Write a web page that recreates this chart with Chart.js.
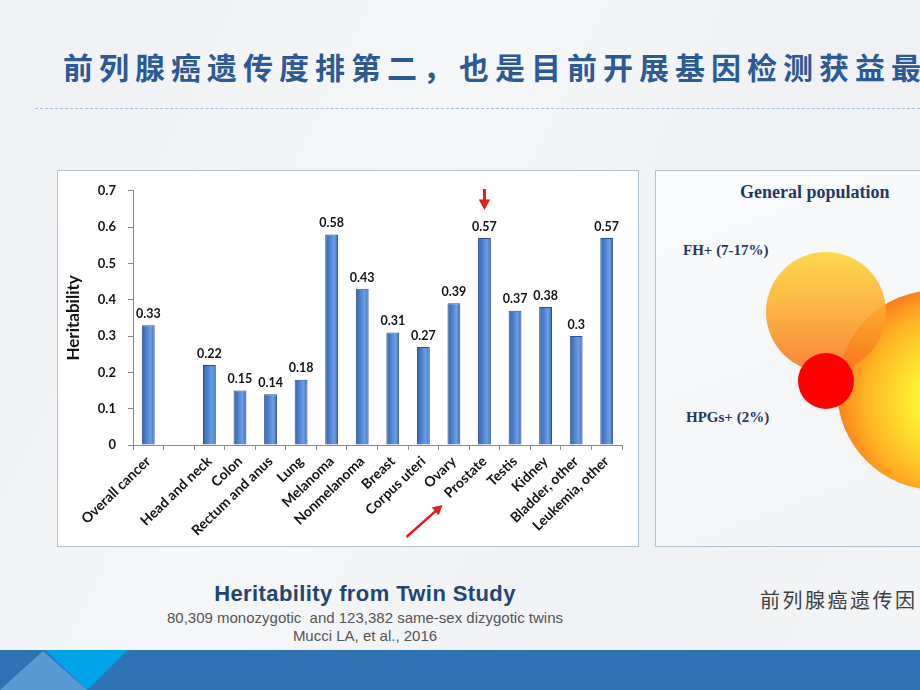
<!DOCTYPE html>
<html>
<head>
<meta charset="utf-8">
<title>Heritability from Twin Study</title>
<script src="https://cdn.jsdelivr.net/npm/chart.js@4.4.1/dist/chart.umd.min.js"></script>
<style>
  html, body { margin: 0; padding: 0; }
  body {
    width: 920px; height: 690px; overflow: hidden; position: relative;
    background: linear-gradient(115deg, #eef0f3 0%, #f6f7f9 40%, #eff1f4 70%, #f4f5f7 100%);
    font-family: "Liberation Sans", Arial, sans-serif;
  }
  .title {
    position: absolute; left: 63px; top: 44px; white-space: nowrap;
    font-family: "Noto Sans CJK SC", sans-serif; font-weight: bold;
    font-size: 30px; letter-spacing: 6px; color: #2c5a94;
  }
  .dash {
    position: absolute; left: 35px; top: 108px; width: 900px; height: 0;
    border-top: 1px dashed #a6bdd6;
  }
  .panel {
    position: absolute; top: 170px; height: 377px;
    border: 1px solid #b4c3d0; box-sizing: border-box;
  }
  #chartPanel { left: 57px; width: 582px; background: #fff; }
  #sidePanel { left: 655px; width: 280px; background: linear-gradient(160deg, #f9fafb, #f2f4f6); overflow: hidden; }
  #chartWrap { position: absolute; left: 58px; top: 171px; width: 579px; height: 376px; }
  .circle { position: absolute; border-radius: 50%; }
  .serif {
    position: absolute; white-space: nowrap; font-family: "Liberation Serif", "DejaVu Serif", serif;
    font-weight: bold; color: #1f3864;
  }
  .caption { position: absolute; left: 165px; width: 400px; text-align: center; white-space: nowrap; }
  .band { position: absolute; left: 0; top: 650px; width: 920px; height: 40px; background: #2e74b5; }
</style>
</head>
<body>
<div class="title">前列腺癌遗传度排第二，也是目前开展基因检测获益最</div>
<div class="dash"></div>

<div class="panel" id="chartPanel"></div>
<div id="chartWrap"><canvas id="heritChart"></canvas></div>

<div class="panel" id="sidePanel"></div>
<div class="circle" style="left:837px;top:290px;width:200px;height:200px;background:radial-gradient(circle at 58% 55%, #ffff3c 0%, #ffee32 25%, #ffb424 55%, #f9611c 82%, #ec2f1a 100%);"></div>
<div class="circle" style="left:766px;top:252px;width:120px;height:120px;opacity:0.88;background:linear-gradient(180deg, #ffd335 0%, #fcae2c 45%, #f8731f 100%);"></div>
<div class="circle" style="left:798px;top:353px;width:56px;height:56px;background:radial-gradient(circle at 50% 45%, #ff0000 70%, #dd0000 100%);"></div>
<div class="serif" style="left:740px;top:182px;font-size:18px;">General population</div>
<div class="serif" style="left:683px;top:242px;font-size:15px;">FH+ (7-17%)</div>
<div class="serif" style="left:686px;top:409px;font-size:15px;">HPGs+ (2%)</div>

<div class="caption" style="top:581px;font-size:22px;font-weight:bold;color:#24466e;letter-spacing:0.4px;">Heritability from Twin Study</div>
<div class="caption" style="top:609px;font-size:15px;color:#555;">80,309 monozygotic&nbsp; and 123,382 same-sex dizygotic twins</div>
<div class="caption" style="top:627px;font-size:15px;color:#555;">Mucci LA, et al., 2016</div>
<div style="position:absolute;left:760px;top:585px;font-family:'Noto Sans CJK SC',sans-serif;font-size:20px;letter-spacing:2.5px;color:#404040;white-space:nowrap;">前列腺癌遗传因</div>

<div class="band"></div>
<svg style="position:absolute;left:0;top:650px;" width="200" height="40">
  <polygon points="45,0 128,0 87,40" fill="#00a2e8"/>
  <polygon points="43,1 0,40 0,40 87,40" fill="#5b9bd5"/>
</svg>

<script>
// Chart data
const categories = ['Overall cancer', '', 'Head and neck', 'Colon', 'Rectum and anus', 'Lung',
  'Melanoma', 'Nonmelanoma', 'Breast', 'Corpus uteri', 'Ovary', 'Prostate', 'Testis', 'Kidney',
  'Bladder, other', 'Leukemia, other'];
const heritability = [0.33, null, 0.22, 0.15, 0.14, 0.18, 0.58, 0.43, 0.31, 0.27, 0.39, 0.57,
  0.37, 0.38, 0.3, 0.57];
const yTicks = [0, 0.1, 0.2, 0.3, 0.4, 0.5, 0.6, 0.7];
const highlighted = 'Prostate';

const axisGray = '#878787';
const textDark = '#141414';

// Per-bar horizontal gradient, like the cylinder-ish bars in the original
function barFill(ctx) {
  const chart = ctx.chart;
  const xs = chart.scales.x;
  if (!xs || ctx.type !== 'data') return '#4a7fcf';
  const cx = xs.getPixelForValue(ctx.dataIndex);
  const w = xs.width / categories.length * 0.42;
  if (!isFinite(cx) || !isFinite(w) || w <= 0) return '#4a7fcf';
  const g = chart.ctx.createLinearGradient(cx - w / 2, 0, cx + w / 2, 0);
  g.addColorStop(0, '#3464ad');
  g.addColorStop(0.45, '#5389d6');
  g.addColorStop(0.7, '#6c9fe4');
  g.addColorStop(1, '#3a6bb3');
  return g;
}

// Value labels above each bar
const valueLabels = {
  id: 'valueLabels',
  afterDatasetsDraw(chart) {
    const ctx = chart.ctx;
    const meta = chart.getDatasetMeta(0);
    ctx.save();
    ctx.font = 'bold 12.5px Lato, "Open Sans", sans-serif';
    ctx.fillStyle = textDark;
    ctx.textAlign = 'center';
    ctx.textBaseline = 'bottom';
    meta.data.forEach((bar, i) => {
      const v = heritability[i];
      if (v == null) return;
      ctx.fillText(String(v), bar.x, bar.y - 5);
    });
    ctx.restore();
  }
};

// Red arrows pointing at Prostate
function drawArrow(ctx, x1, y1, x2, y2, head) {
  const ang = Math.atan2(y2 - y1, x2 - x1);
  ctx.beginPath();
  ctx.moveTo(x1, y1);
  ctx.lineTo(x2 - Math.cos(ang) * head * 0.6, y2 - Math.sin(ang) * head * 0.6);
  ctx.stroke();
  ctx.beginPath();
  ctx.moveTo(x2, y2);
  ctx.lineTo(x2 - head * Math.cos(ang - 0.5), y2 - head * Math.sin(ang - 0.5));
  ctx.lineTo(x2 - head * Math.cos(ang + 0.5), y2 - head * Math.sin(ang + 0.5));
  ctx.closePath();
  ctx.fill();
}

const arrows = {
  id: 'arrows',
  afterDraw(chart) {
    const idx = categories.indexOf(highlighted);
    const bar = chart.getDatasetMeta(0).data[idx];
    if (!bar) return;
    const bottom = chart.chartArea.bottom;
    const ctx = chart.ctx;
    ctx.save();
    ctx.strokeStyle = '#e0201c';
    ctx.fillStyle = '#e0201c';
    ctx.lineWidth = 3;
    drawArrow(ctx, bar.x, bar.y - 49, bar.x, bar.y - 28, 12);
    ctx.lineWidth = 2.5;
    drawArrow(ctx, bar.x - 78, bottom + 92, bar.x - 42, bottom + 60, 11);
    ctx.restore();
  }
};

new Chart(document.getElementById('heritChart'), {
  type: 'bar',
  data: {
    labels: categories,
    datasets: [{
      label: 'Heritability',
      data: heritability,
      backgroundColor: barFill,
      borderColor: '#2b4f8a',
      borderWidth: 1,
      barPercentage: 0.42,
      categoryPercentage: 1
    }]
  },
  options: {
    responsive: true,
    maintainAspectRatio: false,
    animation: false,
    layout: { padding: { top: 18, right: 15, left: 0, bottom: 0 }, autoPadding: false },
    plugins: {
      legend: { display: false },
      tooltip: { enabled: false }
    },
    scales: {
      x: {
        grid: { display: true, offset: true, drawOnChartArea: false, drawTicks: true, tickLength: 5, color: axisGray },
        border: { display: true, color: axisGray },
        ticks: {
          autoSkip: false,
          minRotation: 44,
          maxRotation: 44,
          padding: 3,
          color: textDark,
          font: { family: 'Lato, "Open Sans", sans-serif', size: 14, weight: 'bold' }
        },
        afterFit(scale) { scale.height = 102; }
      },
      y: {
        min: 0,
        max: 0.7,
        afterBuildTicks(scale) { scale.ticks = yTicks.map(v => ({ value: v })); },
        grid: { display: true, drawOnChartArea: false, drawTicks: true, tickLength: 5, color: axisGray },
        border: { display: true, color: axisGray },
        ticks: {
          padding: 12,
          color: textDark,
          font: { family: 'Lato, "Open Sans", sans-serif', size: 13, weight: 'bold' },
          callback: v => String(Number(v.toFixed(1)))
        },
        title: {
          display: true,
          text: 'Heritability',
          color: textDark,
          padding: { top: 5, bottom: 0 },
          font: { family: 'Lato, "Open Sans", sans-serif', size: 17, weight: 'bold' }
        },
        afterFit(scale) { scale.width = 75; }
      }
    }
  },
  plugins: [valueLabels, arrows]
});
</script>
</body>
</html>
